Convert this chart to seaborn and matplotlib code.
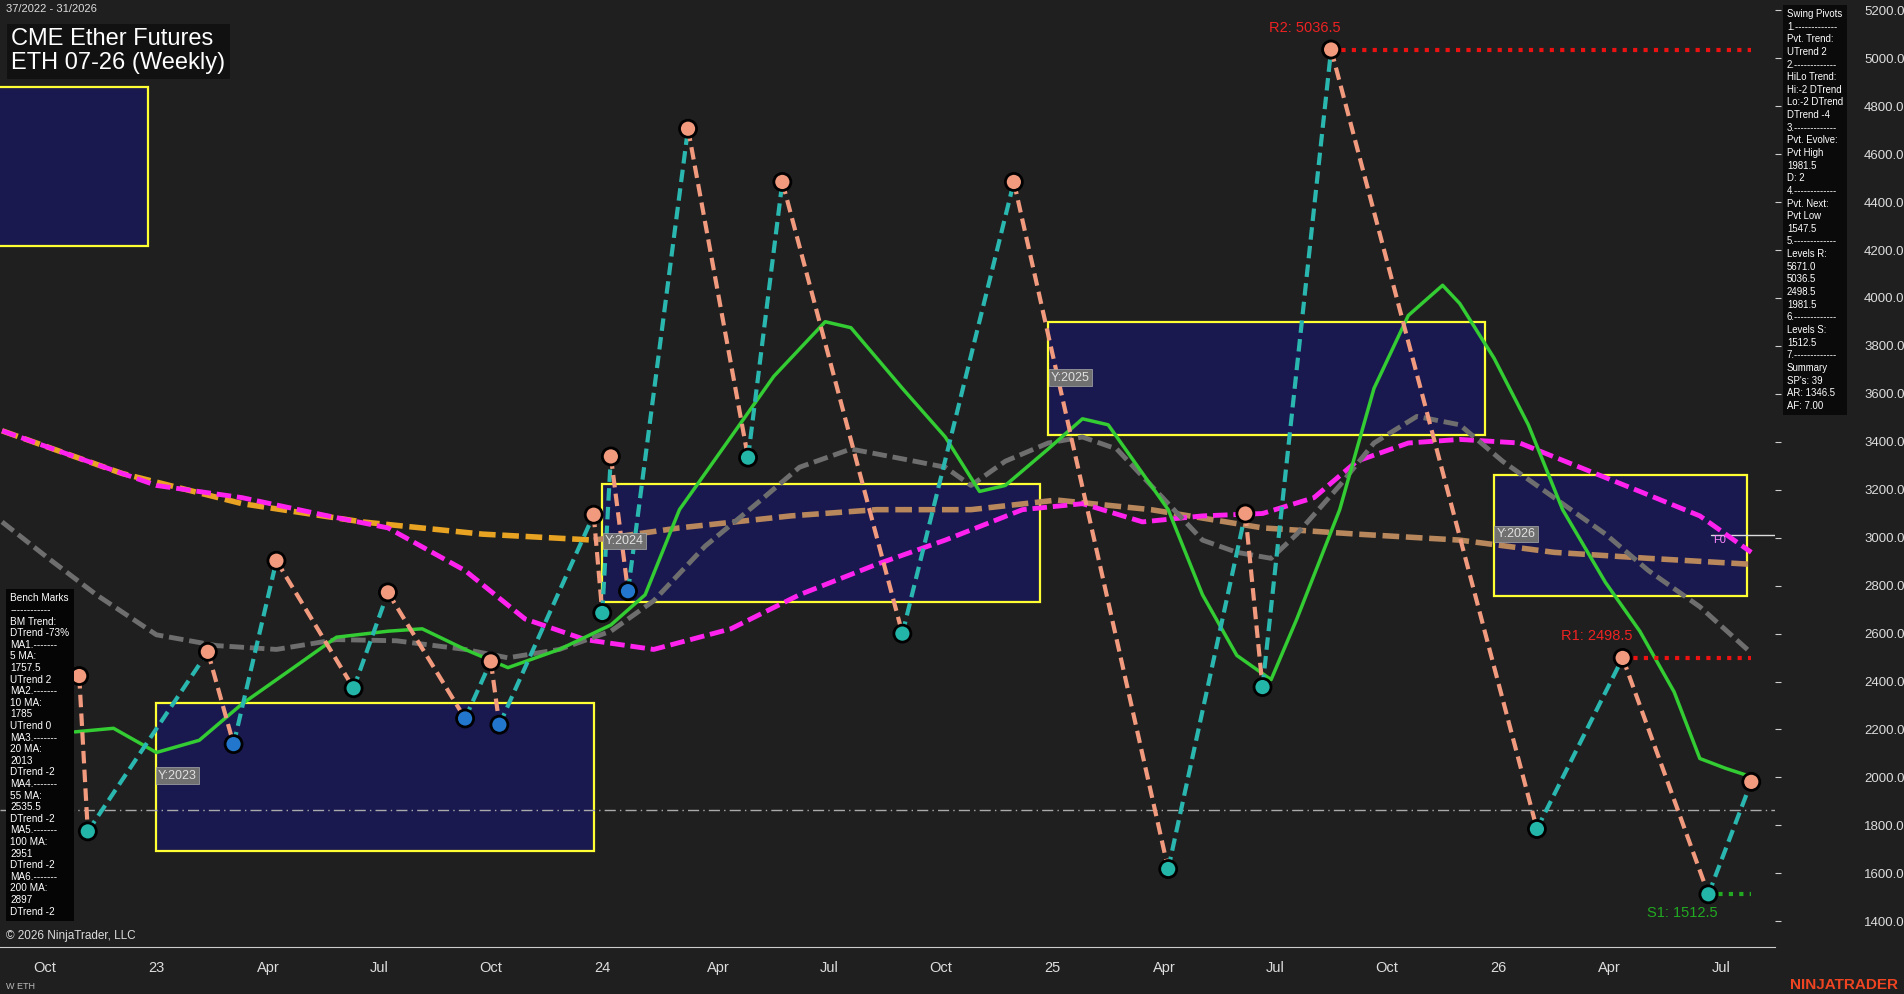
import numpy as np
import pandas as pd
import matplotlib
matplotlib.use("Agg")
import matplotlib.pyplot as plt
import matplotlib.patches as mpatches
import seaborn as sns

sns.set_style("dark")
plt.rcParams['font.family'] = ['Liberation Sans', 'DejaVu Sans']

# ---- data (x = weeks since 1 Oct 2022) ----
pivot_w = [4, 5, 19, 22, 27, 36, 40, 49, 52, 53, 64, 65, 66, 68, 75, 82, 86, 100, 113, 131, 140, 142, 150, 174, 184, 194, 199]
pivot_p = [2423, 1775, 2524, 2139, 2904, 2372, 2772, 2246, 2484, 2220, 3096, 2686, 3339, 2777, 4706, 3334, 4484, 2600, 4484, 1618, 3101, 2377, 5036.5, 1785, 2498.5, 1512.5, 1981.5]
pivot_kind = ['H', 'L', 'H', 'L', 'H', 'L', 'H', 'L', 'H', 'L', 'H', 'L', 'H', 'L', 'H', 'L', 'H', 'L', 'H', 'L', 'H', 'L', 'H', 'L', 'H', 'L', 'H']
blue_lows = [22, 49, 53, 68]

ma20_w = [3.5, 8, 13, 18, 23, 29, 34, 40, 44, 49, 54, 60, 66, 70, 74, 80, 85, 91, 94, 100, 105, 109, 112, 117, 121, 124, 126, 131, 135, 139, 143, 146, 151, 155, 159, 163, 165, 169, 173, 177, 182, 186, 190, 193, 196, 199]
ma20_p = [2190, 2205, 2104, 2155, 2307, 2458, 2585, 2610, 2620, 2534, 2458, 2534, 2636, 2762, 3117, 3420, 3673, 3901, 3876, 3623, 3420, 3193, 3218, 3370, 3496, 3471, 3370, 3117, 2762, 2509, 2408, 2661, 3117, 3623, 3927, 4053, 3977, 3749, 3471, 3117, 2813, 2610, 2357, 2079, 2038, 2003]

ma55_w = [-5, 0.4, 6, 13, 20, 27, 34, 41, 49, 54, 60, 66, 71, 77, 83, 88, 94, 100, 105, 108, 112, 117, 121, 125, 129, 135, 139, 143, 146, 151, 155, 160, 165, 170, 176, 182, 187, 193, 199]
ma55_p = [3066, 2914, 2762, 2595, 2550, 2534, 2575, 2570, 2534, 2499, 2534, 2610, 2737, 2965, 3142, 3294, 3370, 3329, 3294, 3218, 3319, 3395, 3420, 3370, 3218, 2990, 2939, 2914, 3015, 3218, 3395, 3506, 3471, 3319, 3167, 3015, 2863, 2712, 2519]

ma100_w = [-5, 3, 13, 23, 33, 40, 49, 56, 63, 71, 80, 88, 97, 105, 114, 121, 128, 135, 142, 148, 153, 159, 165, 172, 179, 186, 193, 199]
ma100_p = [3446, 3344, 3218, 3167, 3091, 3041, 2863, 2661, 2575, 2534, 2620, 2762, 2889, 2990, 3117, 3142, 3066, 3091, 3101, 3167, 3319, 3395, 3410, 3395, 3294, 3193, 3091, 2939]

ma200_w = [-5, 9, 23, 37, 51, 64, 74, 87, 97, 108, 118, 129, 142, 153, 165, 176, 187, 199]
ma200_p = [3446, 3268, 3142, 3066, 3015, 2990, 3041, 3091, 3117, 3117, 3157, 3117, 3041, 3015, 2990, 2939, 2914, 2889]

box_labels = ['', 'Y:2023', 'Y:2024', 'Y:2025', 'Y:2026']
box_w0 = [-6, 12.9, 65, 117, 169]
box_w1 = [12, 64, 116, 168, 198.5]
box_lo = [4215, 1694, 2732, 3430, 2757]
box_hi = [4879, 2312, 3223, 3901, 3263]
box_label_p = [0, 2008, 2985, 3668, 3015]

xtick_w = [0, 13, 26, 39, 52, 65, 78.5, 91.5, 104.5, 117.5, 130.5, 143.5, 156.5, 169.5, 182.5, 195.5]
xtick_lab = ['Oct', '23', 'Apr', 'Jul', 'Oct', '24', 'Apr', 'Jul', 'Oct', '25', 'Apr', 'Jul', 'Oct', '26', 'Apr', 'Jul']
yticks = list(range(1400, 5201, 200))

R2, R1, S1, ref_line = 5036.5, 2498.5, 1512.5, 1866

swing_text = ("Swing Pivots\n1.-------------\nPvt. Trend:\nUTrend 2\n2.-------------\nHiLo Trend:\n"
              "Hi:-2 DTrend\nLo:-2 DTrend\nDTrend -4\n3.-------------\nPvt. Evolve:\nPvt High\n1981.5\nD: 2\n"
              "4.-------------\nPvt. Next:\nPvt Low\n1547.5\n5.-------------\nLevels R:\n5671.0\n5036.5\n2498.5\n1981.5\n"
              "6.-------------\nLevels S:\n1512.5\n7.-------------\nSummary\nSP's: 39\nAR: 1346.5\nAF: 7.00")
bench_text = ("Bench Marks\n------------\nBM Trend:\nDTrend -73%\nMA1.-------\n5 MA:\n1757.5\nUTrend 2\nMA2.-------\n10 MA:\n1785\n"
              "UTrend 0\nMA3.-------\n20 MA:\n2013\nDTrend -2\nMA4.-------\n55 MA:\n2535.5\nDTrend -2\nMA5.-------\n100 MA:\n2951\n"
              "DTrend -2\nMA6.-------\n200 MA:\n2897\nDTrend -2")

BG = '#1f1f1f'
fig = plt.figure(figsize=(19.04, 9.94), dpi=100, facecolor=BG)
ax = fig.add_axes([0, 0.0476, 0.9324, 0.9524])
ax.set_facecolor(BG)
for s in ax.spines.values():
    s.set_visible(False)
ax.spines['bottom'].set_visible(True)
ax.spines['bottom'].set_color('#cccccc')
ax.set_xlim(-5.24, 201.8)
ax.set_ylim(1294, 5243)

for lab, a, b, lo, hi, lp in zip(box_labels, box_w0, box_w1, box_lo, box_hi, box_label_p):
    ax.add_patch(mpatches.Rectangle((a, lo), b - a, hi - lo, facecolor='#191950', edgecolor='#ffff33', lw=1.6, zorder=1))
    if lab:
        ax.text(a + 0.3, lp, lab, color='#e0e0e0', fontsize=9,
                va='center', bbox=dict(facecolor='#707070', edgecolor='#aaaaaa', lw=0.5, pad=1.5), zorder=6)

ax.axhline(ref_line, color='#aaaaaa', lw=1, ls=(0, (8, 3, 1, 3)), zorder=2)

def ma(w, p, color, ls, lw, z):
    sns.lineplot(x=w, y=p, ax=ax, color=color, lw=lw, ls=ls, sort=False, zorder=z, estimator=None)

ma(ma200_w[:6], ma200_p[:6], '#e8a323', (0, (3, 1.2)), 4, 3)
ma(ma200_w[5:], ma200_p[5:], '#b8875c', (0, (3, 1.2)), 4, 3)
ma(ma100_w, ma100_p, '#ff22ee', (0, (3, 1.2)), 3.5, 3)
ma(ma55_w, ma55_p, '#6e6e6e', (0, (3, 1.2)), 3.5, 3)
ma(ma20_w, ma20_p, '#33cc33', '-', 2.5, 4)

for i in range(len(pivot_w) - 1):
    up = pivot_p[i + 1] > pivot_p[i]
    sns.lineplot(x=pivot_w[i:i + 2], y=pivot_p[i:i + 2], ax=ax, color='#2ab7b0' if up else '#f29a7e',
                 lw=3, ls=(0, (3, 1.5)), zorder=5, estimator=None, sort=False)

cols = []
for w, k in zip(pivot_w, pivot_kind):
    if k == 'H':
        cols.append('#f29a7e')
    elif w in blue_lows:
        cols.append('#2277cc')
    else:
        cols.append('#22b5a8')
df = pd.DataFrame({'w': pivot_w, 'p': pivot_p, 'c': cols})
sns.scatterplot(data=df, x='w', y='p', ax=ax, c=df['c'], s=150, edgecolor='black', linewidth=2, zorder=7)

ax.plot([150, 199], [R2, R2], color='#ee1111', lw=3, ls=(0, (1, 1.5)), zorder=4)
ax.plot([184, 199], [R1, R1], color='#ee1111', lw=3, ls=(0, (1, 1.5)), zorder=4)
ax.plot([194, 199], [S1, S1], color='#22aa22', lw=3, ls=(0, (1, 1.5)), zorder=4)
ax.text(142.8, R2 + 90, 'R2: 5036.5', color='#ee2222', fontsize=10.5, ha='left', va='center')
ax.text(176.8, R1 + 90, 'R1: 2498.5', color='#ee2222', fontsize=10.5, ha='left', va='center')
ax.text(186.8, S1 - 80, 'S1: 1512.5', color='#22aa22', fontsize=10.5, ha='left', va='center')
ax.text(194.5, 2990, 'F0', color='#ff88ff', fontsize=8, va='center')
ax.plot([194.3, 201.8], [3010, 3010], color='#dddddd', lw=1)

ax.set_xticks(xtick_w)
ax.set_xticklabels(xtick_lab, fontsize=10.5)
ax.tick_params(axis='x', colors='#cccccc', labelcolor='#dddddd', length=4, pad=6)
ax.set_yticks(yticks)
ax.set_yticklabels([f'{v:.1f}' for v in yticks], fontsize=9.5)
ax.yaxis.tick_right()
ax.tick_params(axis='y', colors='#cccccc', labelcolor='#dddddd', length=4, pad=60)
ax.set_xlabel('')
ax.set_ylabel('')
ax.grid(False)

fig.text(0.003, 0.996, '37/2022 - 31/2026', color='#dddddd', fontsize=8, va='top')
fig.text(0.006, 0.972, 'CME Ether Futures\nETH 07-26 (Weekly)', color='white', fontsize=17, va='top', linespacing=1.15,
         bbox=dict(facecolor='#111111', edgecolor='none', pad=3))
fig.text(0.9385, 0.991, swing_text, color='white', fontsize=6.9, va='top', linespacing=1.33,
         bbox=dict(facecolor='#0a0a0a', edgecolor='none', pad=3))
fig.text(0.0055, 0.403, bench_text, color='white', fontsize=7.2, va='top', linespacing=1.2,
         bbox=dict(facecolor='#050505', edgecolor='none', pad=3))
fig.text(0.003, 0.055, '\u00a9 2026 NinjaTrader, LLC', color='#dddddd', fontsize=8.5)
fig.text(0.003, 0.005, 'W ETH', color='#bbbbbb', fontsize=6.5)
fig.text(0.997, 0.005, 'NINJATRADER', color='#ee4422', fontsize=11, fontweight='bold', ha='right')

fig.savefig('out.png', dpi=100, facecolor=BG)
